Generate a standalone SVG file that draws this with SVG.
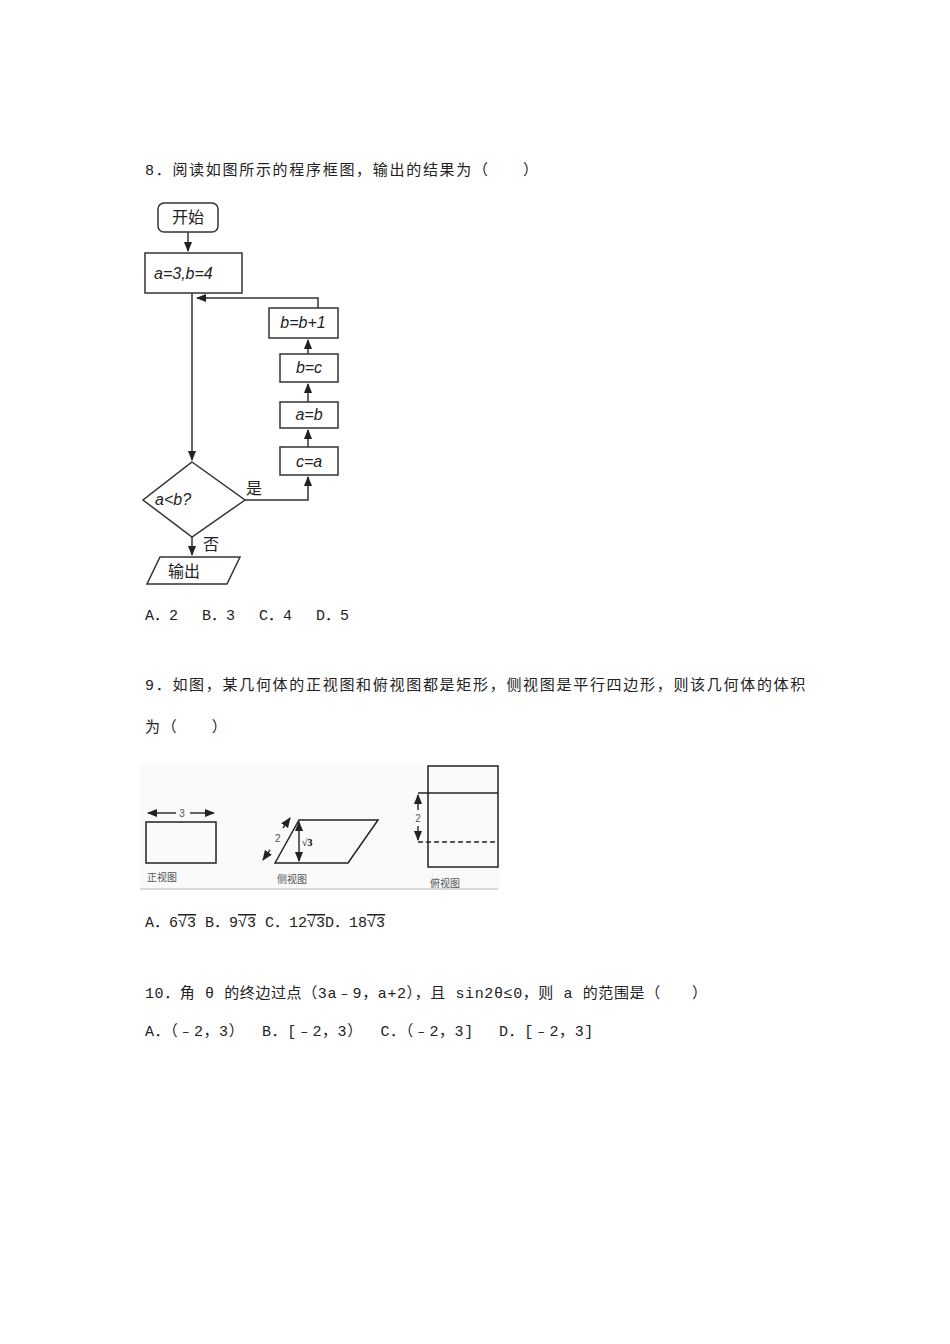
<svg xmlns="http://www.w3.org/2000/svg" width="950" height="1344" viewBox="0 0 950 1344">
<defs>
<style>
.t{font-family:"Liberation Mono","Noto Sans CJK SC",monospace;font-size:15px;fill:#222}
.f{font-family:"Liberation Sans","Noto Sans CJK SC",sans-serif;font-size:16px;fill:#222}
.i{font-style:italic}
.s{font-family:"Liberation Sans","Noto Sans CJK SC",sans-serif;font-size:10px;fill:#555}
.b{fill:#fff;stroke:#333;stroke-width:1.5}
.l{fill:none;stroke:#333;stroke-width:1.5}
</style>
<marker id="a" viewBox="0 0 10 10" refX="9" refY="5" markerWidth="7" markerHeight="7" orient="auto-start-reverse"><path d="M0,1L10,5L0,9z" fill="#222"/></marker>
</defs>
<rect width="950" height="1344" fill="#fff"/>
<text class="t" x="145" y="175" letter-spacing="1.7">8．阅读如图所示的程序框图，输出的结果为（　　）</text>
<g id="connectors">
<path class="l" d="M188,232V251" marker-end="url(#a)"/>
<path class="l" d="M192,293V460" marker-end="url(#a)"/>
<path class="l" d="M245,500H308V477" marker-end="url(#a)"/>
<path class="l" d="M308,447V430" marker-end="url(#a)"/>
<path class="l" d="M308,402V384" marker-end="url(#a)"/>
<path class="l" d="M308,354V340" marker-end="url(#a)"/>
<path class="l" d="M318,308V298H197" marker-end="url(#a)"/>
<path class="l" d="M192,537V555" marker-end="url(#a)"/>
</g>
<g id="start"><rect class="b" x="158" y="203" width="60" height="29" rx="6"/><text class="f" x="188" y="223" text-anchor="middle">开始</text></g>
<g id="init"><rect class="b" x="145" y="253" width="97" height="40"/><text class="f i" x="154" y="279">a=3,b=4</text></g>
<g id="cond"><polygon class="b" points="192,462 245,500 192,537 143,500"/><text class="f i" x="155" y="505">a&lt;b?</text></g>
<g id="out"><polygon class="b" points="160,557 240,557 227,584 147,584"/><text class="f" x="168" y="577">输出</text></g>
<g id="ca"><rect class="b" x="280" y="447" width="58" height="28"/><text class="f i" x="309" y="467" text-anchor="middle">c=a</text></g>
<g id="ab"><rect class="b" x="280" y="402" width="58" height="26"/><text class="f i" x="309" y="420" text-anchor="middle">a=b</text></g>
<g id="bc"><rect class="b" x="280" y="354" width="58" height="28"/><text class="f i" x="309" y="373" text-anchor="middle">b=c</text></g>
<g id="bb1"><rect class="b" x="269" y="308" width="69" height="30"/><text class="f i" x="303" y="328" text-anchor="middle">b=b+1</text></g>
<text class="f" x="246" y="494">是</text>
<text class="f" x="203" y="550">否</text>
<text class="t" x="145" y="620">A．2　 B．3　 C．4　 D．5</text>
<text class="t" x="145" y="690" letter-spacing="1.7">9．如图，某几何体的正视图和俯视图都是矩形，侧视图是平行四边形，则该几何体的体积</text>
<text class="t" x="145" y="732" letter-spacing="1.7">为（　　）</text>
<g id="fig2">
<rect x="140" y="765" width="360" height="125" fill="#fafafa"/>
<line x1="140" y1="889" x2="498" y2="889" stroke="#bbb"/>
<rect x="146" y="822" width="70" height="41" fill="none" stroke="#222" stroke-width="1.5"/>
<path class="l" d="M176,813H148" marker-end="url(#a)"/>
<path class="l" d="M190,813H214" marker-end="url(#a)"/>
<text class="s" x="182" y="817" text-anchor="middle">3</text>
<polygon points="275,863 299,820 378,820 348,863" fill="none" stroke="#222" stroke-width="1.5"/>
<path class="l" d="M299,842V822" marker-end="url(#a)"/>
<path class="l" d="M299,842V861" marker-end="url(#a)"/>
<text x="302" y="846" font-family="Liberation Serif,serif" font-size="10" font-weight="bold">√3</text>
<path class="l" d="M283,828L290,818" marker-end="url(#a)"/>
<path class="l" d="M270,850L263,860" marker-end="url(#a)"/>
<text class="s" x="275" y="842">2</text>
<rect x="428" y="766" width="70" height="101" fill="none" stroke="#222" stroke-width="1.5"/>
<line x1="418" y1="793" x2="498" y2="793" stroke="#222" stroke-width="1.5"/>
<line x1="418" y1="842" x2="498" y2="842" stroke="#222" stroke-width="1.5" stroke-dasharray="5,3"/>
<path class="l" d="M418,810V795" marker-end="url(#a)"/>
<path class="l" d="M418,826V840" marker-end="url(#a)"/>
<text class="s" x="418" y="822" text-anchor="middle">2</text>
<text class="s" x="147" y="881">正视图</text>
<text class="s" x="277" y="883">侧视图</text>
<text class="s" x="430" y="887">俯视图</text>
</g>
<text class="t" x="145" y="927">A．6<tspan text-decoration="overline">√3</tspan> B．9<tspan text-decoration="overline">√3</tspan> C．12<tspan text-decoration="overline">√3</tspan>D．18<tspan text-decoration="overline">√3</tspan></text>
<text class="t" x="145" y="998" letter-spacing="0.6">10．角 θ 的终边过点（3a﹣9，a+2），且 sin2θ≤0，则 a 的范围是（　　）</text>
<text class="t" x="145" y="1036" letter-spacing="0.6">A．（﹣2，3）　 B．[﹣2，3）　 C．（﹣2，3]　 D．[﹣2，3]</text>
</svg>
